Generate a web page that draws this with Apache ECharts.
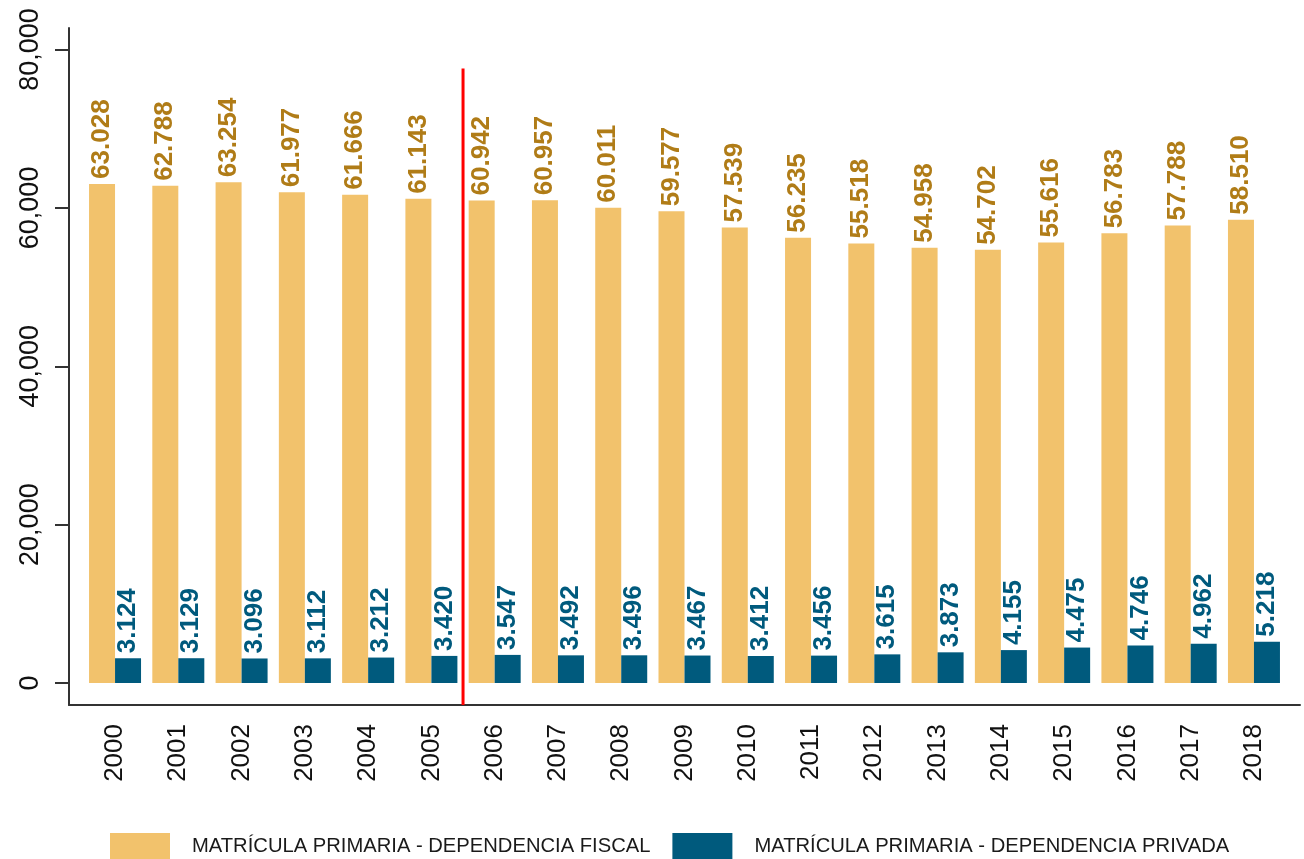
<!DOCTYPE html>
<html>
<head>
<meta charset="utf-8">
<script src="https://cdn.jsdelivr.net/npm/echarts@6.0.0/dist/echarts.min.js"></script>
<style>
  html, body { margin: 0; padding: 0; background: #fff; }
  #chart { width: 1304px; height: 859px; }
</style>
</head>
<body>
<div id="chart"></div>
<script>
// años
const years = ['2000', '2001', '2002', '2003', '2004', '2005', '2006', '2007', '2008', '2009',
  '2010', '2011', '2012', '2013', '2014', '2015', '2016', '2017', '2018'];

// matrícula primaria por dependencia
const fiscal = [63028, 62788, 63254, 61977, 61666, 61143, 60942, 60957, 60011, 59577,
  57539, 56235, 55518, 54958, 54702, 55616, 56783, 57788, 58510];
const privada = [3124, 3129, 3096, 3112, 3212, 3420, 3547, 3492, 3496, 3467,
  3412, 3456, 3615, 3873, 4155, 4475, 4746, 4962, 5218];

// eje y
const yTicks = [0, 20000, 40000, 60000, 80000];
const yMin = -2780;
const yMax = 82720;

// línea divisoria entre 2005 y 2006
const divider = [[5.5, yMin], [5.5, 77600]];

const seriesNames = ['MATRÍCULA PRIMARIA - DEPENDENCIA FISCAL', 'MATRÍCULA PRIMARIA - DEPENDENCIA PRIVADA'];

const FONT = "'Liberation Sans', Arial, sans-serif";

function dotThousands(v) {
  return String(v).replace(/\B(?=(\d{3})+(?!\d))/g, '.');
}
function commaThousands(v) {
  return String(v).replace(/\B(?=(\d{3})+(?!\d))/g, ',');
}

const chart = echarts.init(document.getElementById('chart'));

const option = {
  backgroundColor: '#ffffff',
  animation: false,
  textStyle: { fontFamily: FONT },
  grid: [
    { left: 83.4, right: 18.4, top: 28, bottom: 154 },
    { left: 69, right: 4, top: 28, bottom: 154 }
  ],
  xAxis: [
    {
      gridIndex: 0,
      type: 'category',
      data: years,
      axisLine: { show: false },
      axisTick: { show: false },
      axisLabel: {
        rotate: 90,
        margin: 19,
        fontSize: 26,
        color: '#111',
        fontFamily: FONT
      },
      splitLine: { show: false }
    },
    {
      gridIndex: 0,
      type: 'value',
      min: -0.5,
      max: 18.5,
      show: false
    },
    {
      gridIndex: 1,
      type: 'value',
      min: 0,
      max: 1,
      axisLine: { show: true, onZero: false, lineStyle: { color: '#333', width: 2 } },
      axisTick: { show: false },
      axisLabel: { show: false },
      splitLine: { show: false }
    }
  ],
  yAxis: [
    {
      gridIndex: 0,
      type: 'value',
      min: yMin,
      max: yMax,
      show: false
    },
    {
      gridIndex: 1,
      type: 'value',
      min: yMin,
      max: yMax,
      axisLine: { show: true, onZero: false, lineStyle: { color: '#333', width: 2 } },
      axisTick: {
        show: true,
        length: 14,
        customValues: yTicks,
        lineStyle: { color: '#333', width: 2 }
      },
      axisLabel: {
        customValues: yTicks,
        rotate: 90,
        margin: 25,
        fontSize: 27,
        color: '#111',
        fontFamily: FONT,
        formatter: v => commaThousands(v)
      },
      splitLine: { show: false }
    }
  ],
  legend: {
    data: seriesNames,
    left: 110,
    top: 833,
    padding: 0,
    icon: 'rect',
    itemWidth: 60,
    itemHeight: 26,
    itemGap: 22,
    textStyle: {
      fontSize: 20.2,
      color: '#1a1a1a',
      fontFamily: FONT,
      padding: [0, 0, 0, 17]
    }
  },
  series: [
    {
      name: seriesNames[0],
      type: 'bar',
      xAxisIndex: 0,
      yAxisIndex: 0,
      data: fiscal,
      barWidth: 26,
      barGap: '0%',
      itemStyle: { color: '#F2C26C' },
      label: {
        show: true,
        position: 'top',
        rotate: 90,
        align: 'left',
        verticalAlign: 'middle',
        distance: 5,
        fontSize: 26,
        fontWeight: 'bold',
        color: '#B07C17',
        fontFamily: FONT,
        formatter: p => dotThousands(p.value)
      }
    },
    {
      name: seriesNames[1],
      type: 'bar',
      xAxisIndex: 0,
      yAxisIndex: 0,
      data: privada,
      barWidth: 26,
      barGap: '0%',
      itemStyle: { color: '#005A7D' },
      label: {
        show: true,
        position: 'top',
        rotate: 90,
        align: 'left',
        verticalAlign: 'middle',
        distance: 5,
        fontSize: 26,
        fontWeight: 'bold',
        color: '#005A7D',
        fontFamily: FONT,
        formatter: p => dotThousands(p.value)
      }
    },
    {
      name: 'divisoria',
      type: 'line',
      xAxisIndex: 1,
      yAxisIndex: 0,
      data: divider,
      symbol: 'none',
      silent: true,
      lineStyle: { color: '#FF0000', width: 3 },
      z: 5
    }
  ]
};

chart.setOption(option);
</script>
</body>
</html>
